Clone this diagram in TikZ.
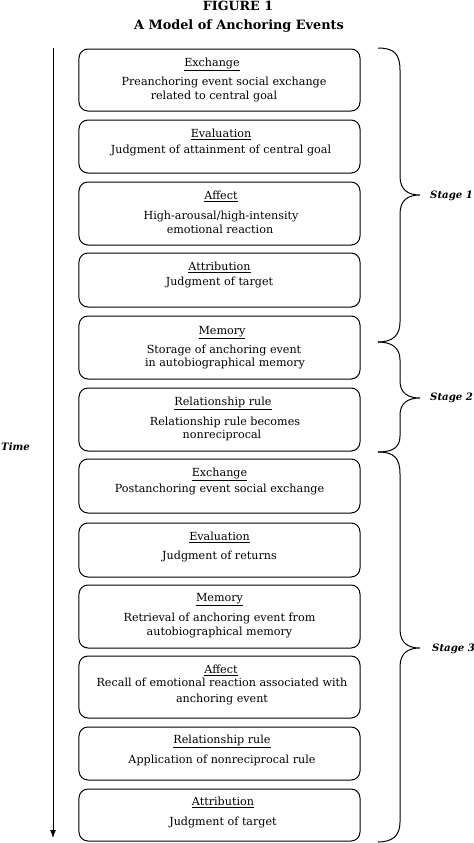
\documentclass[tikz,border=0pt]{standalone}
\usepackage{fontspec}
\setmainfont{DejaVu Serif}
\usetikzlibrary{arrows.meta}
\begin{document}
\begin{tikzpicture}[x=1bp,y=-1bp,
  evbox/.style={draw, line width=1bp, rounded corners=9bp, minimum width=281bp, minimum height=#1, inner sep=0pt},
  hd/.style={anchor=mid, inner sep=0pt, font=\fontsize{11.2}{13}\selectfont},
  tx/.style={anchor=mid, inner sep=0pt, font=\fontsize{11.2}{13}\selectfont},
  lbl/.style={anchor=mid west, inner sep=0pt, font=\fontsize{10.2}{12}\selectfont\bfseries\itshape},
  brc/.style={draw, line width=1bp}]
\useasboundingbox (0,0) rectangle (474,843);
% title
\node[anchor=base, inner sep=0pt, font=\fontsize{12.7}{14}\selectfont\bfseries] (fig) at (238,10) {FIGURE 1};
\node[anchor=base, inner sep=0pt, font=\fontsize{12.9}{14}\selectfont\bfseries] (ttl) at (239,29) {A Model of Anchoring Events};
% boxes
\node[evbox=62bp] (b1) at (219.5,80) {};
\node[hd] (h1) at (212,64) {\underline{Exchange}};
\node[tx] (t1a) at (224,83) {Preanchoring event social exchange};
\node[tx] (t1b) at (214,97) {related to central goal};

\node[evbox=53bp] (b2) at (219.5,146.5) {};
\node[hd] (h2) at (221,135) {\underline{Evaluation}};
\node[tx] (t2a) at (221,151) {Judgment of attainment of central goal};

\node[evbox=63bp] (b3) at (219.5,213.5) {};
\node[hd] (h3) at (221,197) {\underline{Affect}};
\node[tx] (t3a) at (221,217) {High-arousal/high-intensity};
\node[tx] (t3b) at (220,231) {emotional reaction};

\node[evbox=54bp] (b4) at (219.5,280) {};
\node[hd] (h4) at (219.5,268) {\underline{Attribution}};
\node[tx] (t4a) at (219.5,283) {Judgment of target};

\node[evbox=63bp] (b5) at (219.5,347.5) {};
\node[hd] (h5) at (222,332) {\underline{Memory}};
\node[tx] (t5a) at (224,351) {Storage of anchoring event};
\node[tx] (t5b) at (225,364) {in autobiographical memory};

\node[evbox=63bp] (b6) at (219.5,419.5) {};
\node[hd] (h6) at (223,403) {\underline{Relationship rule}};
\node[tx] (t6a) at (225,423) {Relationship rule becomes};
\node[tx] (t6b) at (222,436) {nonreciprocal};

\node[evbox=54bp] (b7) at (219.5,486) {};
\node[hd] (h7) at (219.5,474) {\underline{Exchange}};
\node[tx] (t7a) at (219.5,490) {Postanchoring event social exchange};

\node[evbox=54bp] (b8) at (219.5,550) {};
\node[hd] (h8) at (219.5,538) {\underline{Evaluation}};
\node[tx] (t8a) at (219.5,557) {Judgment of returns};

\node[evbox=63bp] (b9) at (219.5,616.5) {};
\node[hd] (h9) at (219.5,599) {\underline{Memory}};
\node[tx] (t9a) at (219.5,619) {Retrieval of anchoring event from};
\node[tx] (t9b) at (219.5,633) {autobiographical memory};

\node[evbox=62bp] (b10) at (219.5,687) {};
\node[hd] (h10) at (221,671) {\underline{Affect}};
\node[tx] (t10a) at (222,684) {Recall of emotional reaction associated with};
\node[tx] (t10b) at (222,700) {anchoring event};

\node[evbox=53bp] (b11) at (219.5,753.5) {};
\node[hd] (h11) at (222,741) {\underline{Relationship rule}};
\node[tx] (t11a) at (222,761) {Application of nonreciprocal rule};

\node[evbox=52bp] (b12) at (219.5,815) {};
\node[hd] (h12) at (223,803) {\underline{Attribution}};
\node[tx] (t12a) at (223,823) {Judgment of target};
% time arrow
\coordinate (ttop) at (53,48);
\coordinate (tbot) at (53,838);
\draw[line width=1bp, -{Latex[length=8bp,width=6bp]}] (ttop) -- (tbot);
\node[lbl] (time) at (1,448) {Time};
% braces
\draw[brc] (378,48) .. controls (394,48) and (400,54) .. (400,70) -- (400,176)
  .. controls (400,190) and (408,195) .. (420,195)
  .. controls (408,195) and (400,200) .. (400,214) -- (400,322)
  .. controls (400,336) and (392,342) .. (378,342);
\draw[brc] (378,342) .. controls (392,342) and (400,348) .. (400,360) -- (400,381)
  .. controls (400,393) and (408,398) .. (420,398)
  .. controls (408,398) and (400,403) .. (400,415) -- (400,436)
  .. controls (400,448) and (392,452) .. (378,452);
\draw[brc] (378,452) .. controls (394,452) and (400,458) .. (400,474) -- (400,629)
  .. controls (400,643) and (408,648) .. (420,648)
  .. controls (408,648) and (400,653) .. (400,667) -- (400,822)
  .. controls (400,836) and (392,842) .. (378,842);
\node[lbl] (s1) at (430,196) {Stage 1};
\node[lbl] (s2) at (430,398) {Stage 2};
\node[lbl] (s3) at (432,649) {Stage 3};
\end{tikzpicture}
\end{document}
